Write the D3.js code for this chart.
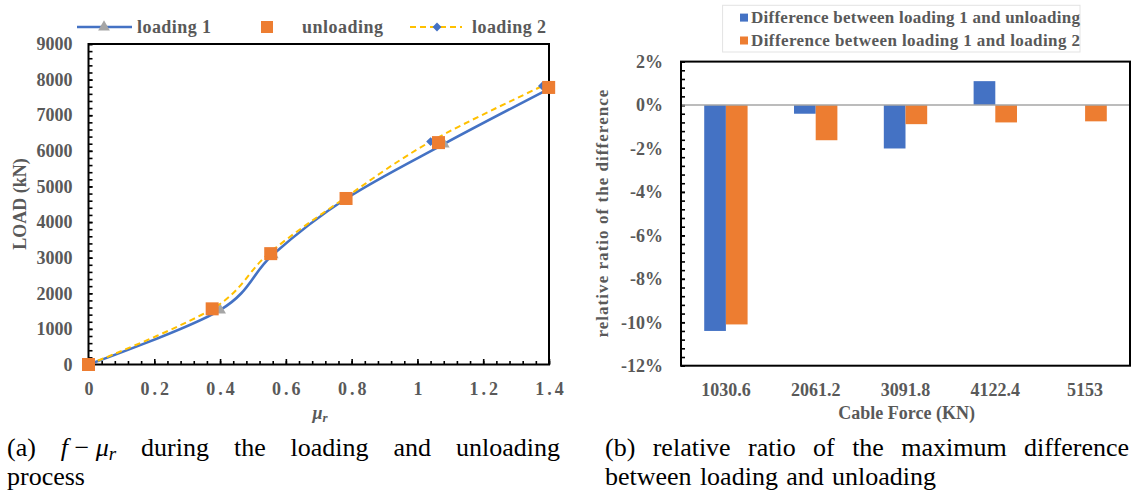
<!DOCTYPE html>
<html><head><meta charset="utf-8">
<script src="https://cdn.jsdelivr.net/npm/d3@7"></script>
<style>
body{margin:0;background:#fff;}
svg text{font-family:"Liberation Serif","Times New Roman",serif !important;}
</style></head><body>
<svg id="c" width="1132" height="491" style="font-family:'Liberation Serif',serif"></svg>
<script>
// ---------- data, chart (a) ----------
const muLoading1   = [0, 0.40, 0.56, 0.78, 1.08, 1.40];
const loadLoading1 = [0, 1530, 3080, 4640, 6190, 7740];
const muUnloading   = [0, 0.376, 0.554, 0.783, 1.064, 1.399];
const loadUnloading = [0, 1563, 3113, 4662, 6231, 7780];
const muLoading2   = [0, 0.38, 0.55, 0.78, 1.04, 1.38];
const loadLoading2 = [0, 1580, 3130, 4680, 6260, 7820];
const xTicksA = [0, 0.2, 0.4, 0.6, 0.8, 1, 1.2, 1.4];
const xTickLabelsA = ["0", "0.2", "0.4", "0.6", "0.8", "1", "1.2", "1.4"];
const yTicksA = [0, 1000, 2000, 3000, 4000, 5000, 6000, 7000, 8000, 9000];
const seriesNamesA = ["loading 1", "unloading", "loading 2"];

// ---------- data, chart (b) ----------
const cableForces = ["1030.6", "2061.2", "3091.8", "4122.4", "5153"];
const diffUnloading = [-10.4, -0.4, -2.0, 1.1, 0];
const diffLoading2  = [-10.1, -1.62, -0.88, -0.8, -0.75];
const yTicksB = [2, 0, -2, -4, -6, -8, -10, -12];
const seriesNamesB = ["Difference between loading 1 and unloading", "Difference between loading 1 and loading 2"];

const BLUE = "#4472C4", ORANGE = "#ED7D31", GRAY = "#A5A5A5", YELLOW = "#FFC000", TXT = "#595959";
const FONT = "'Liberation Serif', 'Times New Roman', serif";
const svg = d3.select("#c");
const styleTicks = g => g.selectAll("text").style("font-family", FONT).attr("font-size", 18)
  .attr("font-weight", "bold").attr("fill", TXT);

// ================= chart (a) =================
const A = {l: 88.5, r: 549, t: 44, b: 364.5};
const xA = d3.scaleLinear().domain([0, 1.4]).range([A.l, A.r]);
const yA = d3.scaleLinear().domain([0, 9000]).range([A.b, A.t]);

svg.append("g").attr("transform", `translate(0,${A.b})`)
  .call(d3.axisBottom(xA).tickValues(d3.range(0, 1.4001, 0.04)).tickSize(-3.5).tickFormat(""))
  .call(g => g.select(".domain").remove())
  .call(g => g.selectAll("line").attr("stroke", "#000").attr("stroke-width", 1.6));
svg.append("g").attr("transform", `translate(${A.l},0)`)
  .call(d3.axisLeft(yA).tickValues(d3.range(0, 9001, 200)).tickSize(-4).tickFormat(""))
  .call(g => g.select(".domain").remove())
  .call(g => g.selectAll("line").attr("stroke", "#000").attr("stroke-width", 1.6));
svg.append("g").attr("transform", `translate(0,${A.b})`)
  .call(d3.axisBottom(xA).tickValues(xTicksA).tickSize(-5.5).tickPadding(18)
        .tickFormat((d, i) => xTickLabelsA[i]))
  .call(g => g.select(".domain").remove())
  .call(g => g.selectAll("line").attr("stroke", "#000").attr("stroke-width", 1.6))
  .call(styleTicks)
  .call(g => g.selectAll("text").attr("letter-spacing", 3).attr("dx", 1.5));
svg.append("g").attr("transform", `translate(${A.l},0)`)
  .call(d3.axisLeft(yA).tickValues(yTicksA).tickSize(-4).tickPadding(16).tickFormat(d3.format("d")))
  .call(g => g.select(".domain").remove())
  .call(g => g.selectAll("line").attr("stroke", "#000").attr("stroke-width", 1.6))
  .call(styleTicks);
svg.append("rect").attr("x", A.l).attr("y", A.t).attr("width", A.r - A.l).attr("height", A.b - A.t)
  .attr("fill", "none").attr("stroke", "#000").attr("stroke-width", 2);

const pts = (xs, ys) => xs.map((x, i) => [x, ys[i]]);
const line = d3.line().x(d => xA(d[0])).y(d => yA(d[1])).curve(d3.curveCardinal.tension(0));
const l1 = pts(muLoading1, loadLoading1), un = pts(muUnloading, loadUnloading), l2 = pts(muLoading2, loadLoading2);

svg.append("path").attr("d", line(l1)).attr("fill", "none").attr("stroke", BLUE).attr("stroke-width", 2.6);
const tri = d3.symbol().type(d3.symbolTriangle).size(60);
svg.selectAll(".tri").data(l1).join("path").attr("class", "tri").attr("d", tri)
  .attr("transform", d => `translate(${xA(d[0])},${yA(d[1])})`).attr("fill", GRAY);
svg.append("path").attr("d", line(l2)).attr("fill", "none").attr("stroke", YELLOW)
  .attr("stroke-width", 2).attr("stroke-dasharray", "6,4");
const dia = d3.symbol().type(d3.symbolDiamond2).size(50);
svg.selectAll(".dia").data(l2).join("path").attr("class", "dia").attr("d", dia)
  .attr("transform", d => `translate(${xA(d[0])},${yA(d[1])})`).attr("fill", BLUE);
svg.selectAll(".sq").data(un).join("rect").attr("class", "sq")
  .attr("x", d => xA(d[0]) - 6.5).attr("y", d => yA(d[1]) - 6.5).attr("width", 13).attr("height", 13)
  .attr("fill", ORANGE);

svg.append("text").attr("transform", `translate(20,204) rotate(-90)`).attr("text-anchor", "middle")
  .attr("dominant-baseline", "central").attr("font-size", 18).attr("font-weight", "bold").attr("fill", TXT)
  .text("LOAD (kN)");
const mt = svg.append("text").attr("x", 320).attr("y", 419).attr("text-anchor", "middle")
  .attr("font-size", 18).attr("font-style", "italic").attr("font-weight", "bold").attr("fill", TXT);
mt.append("tspan").text("μ");
mt.append("tspan").attr("font-size", 13).attr("dy", 3).text("r");

const legA = svg.append("g");
legA.append("line").attr("x1", 77).attr("x2", 132).attr("y1", 27).attr("y2", 27).attr("stroke", BLUE).attr("stroke-width", 2.6);
legA.append("path").attr("d", tri).attr("transform", "translate(104,27)").attr("fill", GRAY);
legA.append("rect").attr("x", 261).attr("y", 21).attr("width", 12).attr("height", 12).attr("fill", ORANGE);
legA.append("line").attr("x1", 410).attr("x2", 462).attr("y1", 27).attr("y2", 27).attr("stroke", YELLOW)
  .attr("stroke-width", 2).attr("stroke-dasharray", "6,4");
legA.append("path").attr("d", dia).attr("transform", "translate(437,27)").attr("fill", BLUE);
const legAX = [137, 302, 472], legAW = [74, 81, 74];
seriesNamesA.forEach((n, i) => {
  legA.append("text").attr("x", legAX[i]).attr("y", 33).attr("font-size", 18).attr("font-weight", "bold")
    .attr("fill", TXT).attr("textLength", legAW[i]).attr("lengthAdjust", "spacing").text(n);
});

// ================= chart (b) =================
const B = {l: 681, r: 1130, t: 61.6, b: 365.7};
const xB = d3.scaleBand().domain(cableForces).range([B.l, B.r]).paddingInner(0.517).paddingOuter(0.2585);
const xSub = d3.scaleBand().domain([0, 1]).range([0, xB.bandwidth()]);
const yB = d3.scaleLinear().domain([-12, 2]).range([B.b, B.t]);

svg.append("g").attr("transform", `translate(${B.l},0)`)
  .call(d3.axisLeft(yB).tickValues(d3.range(-12, 2.001, 0.4)).tickSize(-4).tickFormat(""))
  .call(g => g.select(".domain").remove())
  .call(g => g.selectAll("line").attr("stroke", "#000").attr("stroke-width", 1.6));
svg.append("g").attr("transform", `translate(${B.l},0)`)
  .call(d3.axisLeft(yB).tickValues(yTicksB).tickSize(-4).tickPadding(18).tickFormat(d => d + "%"))
  .call(g => g.select(".domain").remove())
  .call(g => g.selectAll("line").attr("stroke", "#000").attr("stroke-width", 1.6))
  .call(styleTicks);
svg.append("g").attr("transform", `translate(0,${B.b})`)
  .call(d3.axisBottom(xB).tickSize(0).tickPadding(18))
  .call(g => g.select(".domain").remove())
  .call(styleTicks);

const seriesB = [diffUnloading, diffLoading2], colB = [BLUE, ORANGE];
seriesB.forEach((vals, s) => {
  svg.selectAll(".bar" + s).data(vals).join("rect").attr("class", "bar" + s)
    .attr("x", (d, i) => xB(cableForces[i]) + xSub(s)).attr("width", xSub.bandwidth())
    .attr("y", d => yB(Math.max(0, d))).attr("height", d => Math.abs(yB(d) - yB(0)))
    .attr("fill", colB[s]);
});
svg.append("line").attr("x1", B.l).attr("x2", B.r).attr("y1", yB(0)).attr("y2", yB(0))
  .attr("stroke", "#A6A6A6").attr("stroke-width", 1.5);
svg.append("rect").attr("x", B.l).attr("y", B.t).attr("width", B.r - B.l).attr("height", B.b - B.t)
  .attr("fill", "none").attr("stroke", "#000").attr("stroke-width", 2);

svg.append("text").attr("transform", `translate(602,213.6) rotate(-90)`).attr("text-anchor", "middle")
  .attr("dominant-baseline", "central").attr("font-size", 17).attr("font-weight", "bold").attr("fill", TXT)
  .attr("textLength", 248).attr("lengthAdjust", "spacing").text("relative ratio of the difference");
svg.append("text").attr("x", 906.6).attr("y", 419).attr("text-anchor", "middle")
  .attr("font-size", 18).attr("font-weight", "bold").attr("fill", TXT).text("Cable Force (KN)");

const legB = svg.append("g");
legB.append("rect").attr("x", 722.6).attr("y", 5.3).attr("width", 357.4).attr("height", 46.7)
  .attr("fill", "#fff").attr("stroke", "#E3E3E3").attr("stroke-width", 1);
const rowY = [17.6, 40.5];
seriesNamesB.forEach((n, i) => {
  legB.append("rect").attr("x", 740).attr("y", rowY[i] - 4).attr("width", 8).attr("height", 8).attr("fill", colB[i]);
  legB.append("text").attr("x", 751).attr("y", rowY[i] + 5.5).attr("font-size", 17).attr("font-weight", "bold")
    .attr("fill", TXT).attr("textLength", 329).attr("lengthAdjust", "spacing").text(n);
});

// ================= captions =================
function justifyLine(words, x0, x1, baseline) {
  const nodes = words.map(w => {
    const t = svg.append("text").attr("y", baseline).attr("font-size", 26).attr("fill", "#000");
    if (typeof w === "string") t.text(w); else w(t);
    return t;
  });
  const widths = nodes.map(n => n.node().getComputedTextLength());
  const total = d3.sum(widths);
  const gap = nodes.length > 1 ? (x1 - x0 - total) / (nodes.length - 1) : 0;
  let x = x0;
  nodes.forEach((n, i) => { n.attr("x", x); x += widths[i] + gap; });
}
const mathWord = t => {
  t.append("tspan").attr("font-style", "italic").text("f");
  t.append("tspan").text(" − ");
  t.append("tspan").attr("font-style", "italic").text("μ");
  t.append("tspan").attr("font-style", "italic").attr("font-size", 19).attr("dy", 4).text("r");
};
justifyLine(["(a)", mathWord, "during", "the", "loading", "and", "unloading"], 7, 560, 456);
justifyLine(["process"], 7, 87, 485);
justifyLine(["(b)", "relative", "ratio", "of", "the", "maximum", "difference"], 605, 1129, 456);
justifyLine(["between", "loading", "and", "unloading"], 605, 936, 485);
</script>
</body></html>
